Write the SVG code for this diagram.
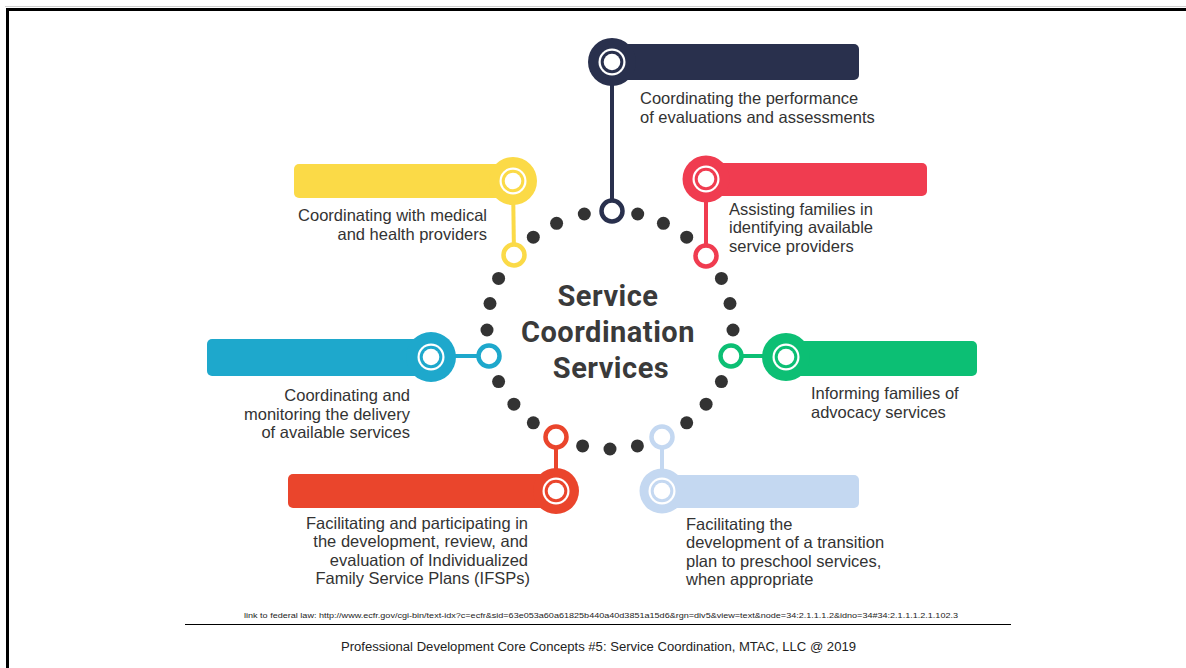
<svg xmlns="http://www.w3.org/2000/svg" width="1186" height="668" viewBox="0 0 1186 668">
  <style>
    .lbl { font-family: "Liberation Sans", Arial, sans-serif; font-size: 16.5px; fill: #333333; }
    .end { text-anchor: end; }
    .title { font-family: Roboto, "Liberation Sans", sans-serif; font-weight: bold; font-size: 29px; letter-spacing: 0.5px; fill: #3a3a3a; text-anchor: middle; }
    .dot { fill: #333333; }
    .ring { fill: #ffffff; stroke-width: 4.5; }
    .stem { stroke-width: 4; fill: none; }
    .foot { font-family: "Liberation Sans", Arial, sans-serif; fill: #222222; }
  </style>
  <defs>
    <!-- inner badge inside each big circle: thin white halo, coloured ring, white centre -->
    <g id="badge">
      <circle r="13.5" fill="#ffffff"/>
      <circle r="11.3" fill="currentColor"/>
      <circle r="8.3" fill="#ffffff"/>
    </g>
  </defs>

  <rect width="1186" height="668" fill="#ffffff"/>
  <!-- slide frame -->
  <line x1="5" y1="6.5" x2="1186" y2="6.5" stroke="#d0d0d0" stroke-width="1"/>
  <line x1="6" y1="9.5" x2="1186" y2="9.5" stroke="#000000" stroke-width="3"/>
  <line x1="7.5" y1="8" x2="7.5" y2="668" stroke="#000000" stroke-width="3"/>

  <!-- connectors: stems from the bars to the ring -->
  <g id="connectors">
    <line class="stem" x1="612" y1="62" x2="612" y2="211" stroke="#29304d"/>
    <line class="stem" x1="513" y1="181" x2="514" y2="255" stroke="#fbda47"/>
    <line class="stem" x1="706" y1="179" x2="706" y2="256" stroke="#f03c50"/>
    <line class="stem" x1="431" y1="356" x2="489" y2="356" stroke="#1ea8cc"/>
    <line class="stem" x1="731" y1="356" x2="786" y2="356" stroke="#0cbf74"/>
    <line class="stem" x1="556" y1="437" x2="556" y2="491" stroke="#ea452c"/>
    <line class="stem" x1="662" y1="437" x2="662" y2="491" stroke="#c4d8f1"/>
  </g>

  <!-- dotted ring around the title -->
  <g id="dots">
    <circle class="dot" cx="637.7" cy="214" r="6.5"/>
    <circle class="dot" cx="663.4" cy="223.3" r="6.5"/>
    <circle class="dot" cx="686.7" cy="237.2" r="6.5"/>
    <circle class="dot" cx="721.4" cy="278.4" r="6.5"/>
    <circle class="dot" cx="730" cy="303.5" r="6.5"/>
    <circle class="dot" cx="733" cy="330" r="6.5"/>
    <circle class="dot" cx="721.4" cy="381.6" r="6.5"/>
    <circle class="dot" cx="706.1" cy="404.2" r="6.5"/>
    <circle class="dot" cx="686.7" cy="422.8" r="6.5"/>
    <circle class="dot" cx="637.4" cy="445.9" r="6.5"/>
    <circle class="dot" cx="610" cy="449" r="6.5"/>
    <circle class="dot" cx="582.6" cy="445.9" r="6.5"/>
    <circle class="dot" cx="533.3" cy="422.8" r="6.5"/>
    <circle class="dot" cx="513.9" cy="404.2" r="6.5"/>
    <circle class="dot" cx="498.6" cy="381.6" r="6.5"/>
    <circle class="dot" cx="487" cy="330" r="6.5"/>
    <circle class="dot" cx="490" cy="303.5" r="6.5"/>
    <circle class="dot" cx="498.6" cy="278.4" r="6.5"/>
    <circle class="dot" cx="533.3" cy="237.2" r="6.5"/>
    <circle class="dot" cx="556.6" cy="223.3" r="6.5"/>
    <circle class="dot" cx="584.3" cy="214" r="6.5"/>
  </g>

  <g id="title">
    <text class="title" x="608" y="306">Service</text>
    <text class="title" x="608" y="342">Coordination</text>
    <text class="title" x="611" y="378">Services</text>
  </g>

  <g id="node-evaluations" color="#29304d">
    <rect x="612" y="44" width="247" height="36" rx="5" fill="#29304d"/>
    <circle cx="612" cy="62" r="24" fill="#29304d"/>
    <use href="#badge" x="612" y="62"/>
    <circle class="ring" cx="612" cy="211" r="10.5" stroke="#29304d"/>
    <text class="lbl" x="640" y="104">Coordinating the performance</text>
    <text class="lbl" x="640" y="122.5">of evaluations and assessments</text>
  </g>

  <g id="node-medical" color="#fbda47">
    <rect x="294" y="164" width="219" height="34" rx="5" fill="#fbda47"/>
    <circle cx="513" cy="181" r="24" fill="#fbda47"/>
    <use href="#badge" x="513" y="181"/>
    <circle class="ring" cx="514" cy="255" r="10.5" stroke="#fbda47"/>
    <text class="lbl end" x="487" y="221">Coordinating with medical</text>
    <text class="lbl end" x="487" y="239.5">and health providers</text>
  </g>

  <g id="node-providers" color="#f03c50">
    <rect x="706" y="163" width="221" height="33" rx="5" fill="#f03c50"/>
    <circle cx="706" cy="179" r="23.5" fill="#f03c50"/>
    <use href="#badge" x="706" y="179"/>
    <circle class="ring" cx="706" cy="256" r="10.5" stroke="#f03c50"/>
    <text class="lbl" x="729" y="214.5">Assisting families in</text>
    <text class="lbl" x="729" y="233">identifying available</text>
    <text class="lbl" x="729" y="251.5">service providers</text>
  </g>

  <g id="node-delivery" color="#1ea8cc">
    <rect x="207" y="339" width="224" height="37" rx="5" fill="#1ea8cc"/>
    <circle cx="431" cy="357" r="25" fill="#1ea8cc"/>
    <use href="#badge" x="431" y="357"/>
    <circle class="ring" cx="489" cy="356" r="10.5" stroke="#1ea8cc"/>
    <text class="lbl end" x="410" y="401">Coordinating and</text>
    <text class="lbl end" x="410" y="419.5">monitoring the delivery</text>
    <text class="lbl end" x="410" y="438">of available services</text>
  </g>

  <g id="node-advocacy" color="#0cbf74">
    <rect x="786" y="341" width="191" height="35" rx="5" fill="#0cbf74"/>
    <circle cx="786" cy="357" r="24" fill="#0cbf74"/>
    <use href="#badge" x="786" y="357"/>
    <circle class="ring" cx="731" cy="356" r="10.5" stroke="#0cbf74"/>
    <text class="lbl" x="811" y="399">Informing families of</text>
    <text class="lbl" x="811" y="417.5">advocacy services</text>
  </g>

  <g id="node-ifsp" color="#ea452c">
    <rect x="288" y="474" width="268" height="34" rx="5" fill="#ea452c"/>
    <circle cx="556" cy="491" r="23" fill="#ea452c"/>
    <use href="#badge" x="556" y="491"/>
    <circle class="ring" cx="556" cy="437" r="10.5" stroke="#ea452c"/>
    <text class="lbl end" x="528" y="528.5">Facilitating and participating in</text>
    <text class="lbl end" x="528" y="547">the development, review, and</text>
    <text class="lbl end" x="528" y="565.5">evaluation of Individualized</text>
    <text class="lbl end" x="530" y="584">Family Service Plans (IFSPs)</text>
  </g>

  <g id="node-transition" color="#c4d8f1">
    <rect x="662" y="475" width="197" height="33" rx="5" fill="#c4d8f1"/>
    <circle cx="662" cy="491" r="22.5" fill="#c4d8f1"/>
    <use href="#badge" x="662" y="491"/>
    <circle class="ring" cx="662" cy="437" r="10.5" stroke="#c4d8f1"/>
    <text class="lbl" x="686" y="529.5">Facilitating the</text>
    <text class="lbl" x="686" y="548">development of a transition</text>
    <text class="lbl" x="686" y="566.5">plan to preschool services,</text>
    <text class="lbl" x="686" y="585">when appropriate</text>
  </g>

  <g id="footer">
    <text class="foot" x="244" y="618" font-size="8" fill="#555555" textLength="714" lengthAdjust="spacingAndGlyphs">link to federal law: http://www.ecfr.gov/cgi-bin/text-idx?c=ecfr&amp;sid=63e053a60a61825b440a40d3851a15d6&amp;rgn=div5&amp;view=text&amp;node=34:2.1.1.1.2&amp;idno=34#34:2.1.1.1.2.1.102.3</text>
    <line x1="185" y1="624.5" x2="1011" y2="624.5" stroke="#000000" stroke-width="1"/>
    <text class="foot" x="341" y="651" font-size="12.5" textLength="515" lengthAdjust="spacingAndGlyphs">Professional Development Core Concepts #5: Service Coordination, MTAC, LLC @ 2019</text>
  </g>
</svg>
